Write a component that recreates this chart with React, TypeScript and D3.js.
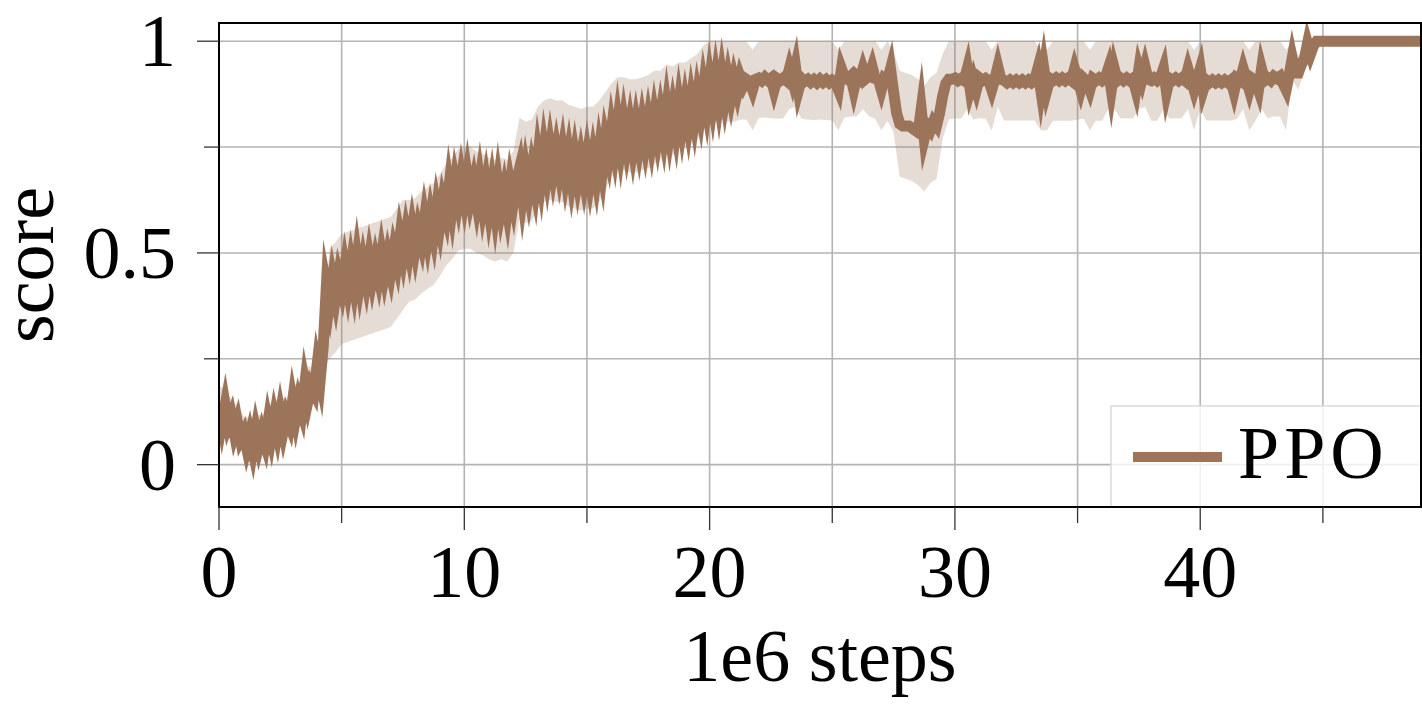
import React from 'react';
import * as d3 from 'd3';

// mean score is read every 0.125 (1e6 steps), the shaded spread every 0.25
const MEAN_STEP = 0.125;
const STD_STEP = 0.25;

// mean score of PPO (one row per unit of x: x, x+0.125, ... x+0.875)
const meanScore = [
  0.145, 0.1, 0.14, 0.095, 0.115, 0.075, 0.1, 0.06,
  0.075, 0.04, 0.07, 0.035, 0.08, 0.045, 0.075, 0.05,
  0.1, 0.065, 0.11, 0.075, 0.12, 0.08, 0.115, 0.095,
  0.15, 0.11, 0.15, 0.125, 0.19, 0.15, 0.185, 0.17,
  0.235, 0.2, 0.28, 0.42, 0.38, 0.435, 0.395, 0.445,
  0.415, 0.465, 0.42, 0.47, 0.425, 0.485, 0.43, 0.475,
  0.435, 0.485, 0.44, 0.48, 0.445, 0.495, 0.45, 0.49,
  0.455, 0.505, 0.475, 0.535, 0.495, 0.545, 0.505, 0.555,
  0.51, 0.555, 0.525, 0.58, 0.535, 0.585, 0.545, 0.605,
  0.565, 0.62, 0.59, 0.655, 0.605, 0.665, 0.625, 0.675,
  0.63, 0.68, 0.63, 0.665, 0.62, 0.67, 0.615, 0.66,
  0.605, 0.655, 0.6, 0.66, 0.605, 0.645, 0.6, 0.66,
  0.62, 0.67, 0.7, 0.635, 0.69, 0.645, 0.695, 0.655,
  0.725, 0.675, 0.74, 0.69, 0.745, 0.695, 0.74, 0.695,
  0.74, 0.685, 0.73, 0.675, 0.725, 0.675, 0.72, 0.675,
  0.725, 0.675, 0.725, 0.68, 0.74, 0.695, 0.765, 0.73,
  0.79, 0.745, 0.805, 0.75, 0.805, 0.755, 0.8, 0.75,
  0.8, 0.755, 0.805, 0.76, 0.81, 0.765, 0.82, 0.775,
  0.825, 0.78, 0.84, 0.785, 0.835, 0.79, 0.85, 0.8,
  0.85, 0.805, 0.86, 0.815, 0.87, 0.83, 0.89, 0.845,
  0.905, 0.855, 0.91, 0.86, 0.915, 0.865, 0.91, 0.87,
  0.91, 0.88, 0.915, 0.895, 0.91, 0.905, 0.885, 0.91,
  0.913, 0.907, 0.915, 0.908, 0.913, 0.885, 0.912, 0.907,
  0.913, 0.907, 0.935, 0.908, 0.94, 0.885, 0.912, 0.905,
  0.91, 0.903, 0.909, 0.902, 0.91, 0.903, 0.909, 0.902,
  0.908, 0.903, 0.885, 0.935, 0.915, 0.91, 0.917, 0.885,
  0.917, 0.91, 0.935, 0.912, 0.918, 0.94, 0.912, 0.91,
  0.885, 0.912, 0.907, 0.935, 0.88, 0.83, 0.805, 0.8,
  0.8, 0.8, 0.795, 0.79, 0.785, 0.84, 0.77, 0.8,
  0.79, 0.81, 0.8, 0.83, 0.87, 0.9, 0.91, 0.91,
  0.913, 0.907, 0.912, 0.907, 0.935, 0.885, 0.91, 0.885,
  0.913, 0.907, 0.912, 0.907, 0.885, 0.91, 0.94, 0.91,
  0.908, 0.902, 0.908, 0.902, 0.908, 0.902, 0.908, 0.902,
  0.908, 0.902, 0.908, 0.935, 0.885, 0.935, 0.885, 0.912,
  0.907, 0.913, 0.907, 0.913, 0.907, 0.913, 0.907, 0.935,
  0.91, 0.885, 0.912, 0.905, 0.885, 0.912, 0.907, 0.913,
  0.907, 0.913, 0.935, 0.885, 0.935, 0.907, 0.913, 0.907,
  0.913, 0.907, 0.912, 0.885, 0.935, 0.91, 0.94, 0.91,
  0.907, 0.913, 0.907, 0.913, 0.935, 0.88, 0.912, 0.907,
  0.913, 0.907, 0.913, 0.907, 0.935, 0.91, 0.885, 0.91,
  0.935, 0.885, 0.908, 0.902, 0.908, 0.902, 0.908, 0.902,
  0.908, 0.902, 0.908, 0.88, 0.912, 0.907, 0.935, 0.91,
  0.885, 0.912, 0.907, 0.885, 0.935, 0.907, 0.913, 0.907,
  0.917, 0.912, 0.917, 0.9, 0.885, 0.92, 0.96, 0.925,
  0.925, 0.945, 0.96, 0.995, 0.97, 0.99, 1.0, 1.0,
  1, 1, 1, 1, 1, 1, 1, 1,
  1, 1, 1, 1, 1, 1, 1, 1,
  1, 1, 1, 1, 1, 1, 1, 1,
  1, 1, 1, 1, 1, 1, 1, 1,
  1,
];

// standard deviation of the score (shaded band), x = 0, 0.25, 0.5, ...
const stdScore = [
  0.04, 0.04, 0.04, 0.04, 0.04, 0.04, 0.04, 0.04, 0.04, 0.04,
  0.04, 0.04, 0.04, 0.04, 0.045, 0.045, 0.05, 0.05, 0.13, 0.13,
  0.13, 0.13, 0.13, 0.13, 0.13, 0.13, 0.13, 0.13, 0.13, 0.13,
  0.13, 0.12, 0.12, 0.12, 0.12, 0.12, 0.12, 0.12, 0.12, 0.12,
  0.12, 0.12, 0.12, 0.12, 0.12, 0.12, 0.12, 0.12, 0.12, 0.12,
  0.12, 0.12, 0.12, 0.12, 0.12, 0.12, 0.12, 0.12, 0.12, 0.12,
  0.12, 0.12, 0.12, 0.115, 0.11, 0.11, 0.11, 0.11, 0.11, 0.11,
  0.11, 0.11, 0.105, 0.105, 0.105, 0.1, 0.1, 0.1, 0.1, 0.1,
  0.1, 0.1, 0.1, 0.1, 0.1, 0.1, 0.095, 0.095, 0.095, 0.095,
  0.095, 0.095, 0.095, 0.095, 0.095, 0.095, 0.095, 0.095, 0.095, 0.095,
  0.095, 0.095, 0.095, 0.095, 0.095, 0.095, 0.095, 0.095, 0.095, 0.095,
  0.095, 0.125, 0.125, 0.125, 0.125, 0.125, 0.125, 0.125, 0.1, 0.095,
  0.095, 0.095, 0.095, 0.095, 0.095, 0.095, 0.095, 0.095, 0.095, 0.095,
  0.095, 0.095, 0.095, 0.095, 0.095, 0.095, 0.095, 0.095, 0.095, 0.095,
  0.095, 0.095, 0.095, 0.095, 0.095, 0.095, 0.095, 0.095, 0.095, 0.095,
  0.095, 0.095, 0.095, 0.095, 0.095, 0.095, 0.095, 0.095, 0.095, 0.095,
  0.095, 0.095, 0.095, 0.095, 0.095, 0.095, 0.095, 0.095, 0.095, 0.095,
  0.095, 0.095, 0.095, 0.095, 0.095, 0.05, 0.04, 0.03, 0.01, 0.005,
  0, 0, 0, 0, 0, 0, 0, 0, 0, 0,
  0, 0, 0, 0, 0, 0, 0,
];

const xTicks = [0, 10, 20, 30, 40];
const xMinorTicks = [5, 15, 25, 35, 45];
const yTicks = [0, 0.5, 1];
const yMinorTicks = [0.25, 0.75];
const yTickLabels = ['0', '0.5', '1'];
const seriesName = 'PPO';
const xTitle = '1e6 steps';
const yTitle = 'score';

const WIDTH = 1422;
const HEIGHT = 713;
const PLOT = { left: 219, right: 1421, top: 23, bottom: 507 };
const LINE_COLOR = '#9c745a';
const FONT = "'Liberation Serif', 'Times New Roman', serif";
const FS = 74;

type Pt = { x: number; m: number; s: number };

export default function App() {
  const x = d3.scaleLinear().domain([0, 49]).range([PLOT.left, PLOT.right]);
  const y = d3.scaleLinear().domain([-0.1, 1.043]).range([PLOT.bottom, PLOT.top]);

  const lineData: Pt[] = meanScore.map((m, i) => ({ x: i * MEAN_STEP, m, s: 0 }));
  const ratio = Math.round(STD_STEP / MEAN_STEP);
  const bandData: Pt[] = stdScore.map((s, i) => ({ x: i * STD_STEP, m: meanScore[i * ratio], s }));

  const area = d3
    .area<Pt>()
    .x((d) => x(d.x))
    .y0((d) => y(d.m - d.s))
    .y1((d) => y(Math.min(1, d.m + d.s)));

  const line = d3
    .line<Pt>()
    .x((d) => x(d.x))
    .y((d) => y(d.m));

  const allX = [...xTicks, ...xMinorTicks].sort((a, b) => a - b);
  const allY = [...yTicks, ...yMinorTicks].sort((a, b) => a - b);

  return (
    <svg
      width={WIDTH}
      height={HEIGHT}
      style={{ position: 'absolute', left: 0, top: 0, background: '#fff' }}
      fontFamily={FONT}
    >
      <defs>
        <clipPath id="plotClip">
          <rect x={PLOT.left} y={PLOT.top} width={PLOT.right - PLOT.left} height={PLOT.bottom - PLOT.top} />
        </clipPath>
      </defs>

      {/* grid */}
      <g stroke="#b4b4b4" strokeWidth={1.6}>
        {allX.map((t) => (
          <line key={'gx' + t} x1={x(t)} x2={x(t)} y1={PLOT.top} y2={PLOT.bottom} />
        ))}
        {allY.map((t) => (
          <line key={'gy' + t} x1={PLOT.left} x2={PLOT.right} y1={y(t)} y2={y(t)} />
        ))}
      </g>

      {/* series */}
      <g clipPath="url(#plotClip)">
        <path d={area(bandData) || ''} fill={LINE_COLOR} fillOpacity={0.25} stroke="none" />
        <path
          d={line(lineData) || ''}
          fill="none"
          stroke={LINE_COLOR}
          strokeWidth={11}
          strokeLinejoin="miter"
          strokeMiterlimit={10}
          strokeLinecap="butt"
        />
      </g>

      {/* legend */}
      <g>
        <rect x={1111} y={406} width={310} height={101} fill="#fff" fillOpacity={0.8} stroke="#dcdcdc" strokeWidth={1.5} />
        <line x1={1133} x2={1222} y1={457} y2={457} stroke={LINE_COLOR} strokeWidth={10} />
        <text x={1238} y={478} fontSize={FS} fill="#000" letterSpacing={5}>
          {seriesName}
        </text>
      </g>

      {/* frame */}
      <rect
        x={PLOT.left}
        y={PLOT.top}
        width={PLOT.right - PLOT.left}
        height={PLOT.bottom - PLOT.top}
        fill="none"
        stroke="#000"
        strokeWidth={2}
      />

      {/* ticks */}
      <g stroke="#333" strokeWidth={1.3}>
        {xTicks.map((t) => (
          <line key={'tx' + t} x1={x(t)} x2={x(t)} y1={PLOT.bottom} y2={PLOT.bottom + 23} />
        ))}
        {xMinorTicks.map((t) => (
          <line key={'mtx' + t} x1={x(t)} x2={x(t)} y1={PLOT.bottom} y2={PLOT.bottom + 16} />
        ))}
        {yTicks.map((t) => (
          <line key={'ty' + t} x1={PLOT.left - 22} x2={PLOT.left} y1={y(t)} y2={y(t)} />
        ))}
        {yMinorTicks.map((t) => (
          <line key={'mty' + t} x1={PLOT.left - 15} x2={PLOT.left} y1={y(t)} y2={y(t)} />
        ))}
      </g>

      {/* tick labels */}
      <g fontSize={FS} fill="#000">
        {xTicks.map((t) => (
          <text key={'lx' + t} x={x(t)} y={597} textAnchor="middle">
            {String(t)}
          </text>
        ))}
        {yTicks.map((t, i) => (
          <text key={'ly' + t} x={176} y={y(t) + 25} textAnchor="end">
            {yTickLabels[i]}
          </text>
        ))}
      </g>

      {/* axis titles */}
      <text x={(PLOT.left + PLOT.right) / 2} y={681} textAnchor="middle" fontSize={FS} fill="#000">
        {xTitle}
      </text>
      <text
        transform={`translate(53, ${(PLOT.top + PLOT.bottom) / 2}) rotate(-90)`}
        textAnchor="middle"
        fontSize={FS}
        fill="#000"
      >
        {yTitle}
      </text>
    </svg>
  );
}
